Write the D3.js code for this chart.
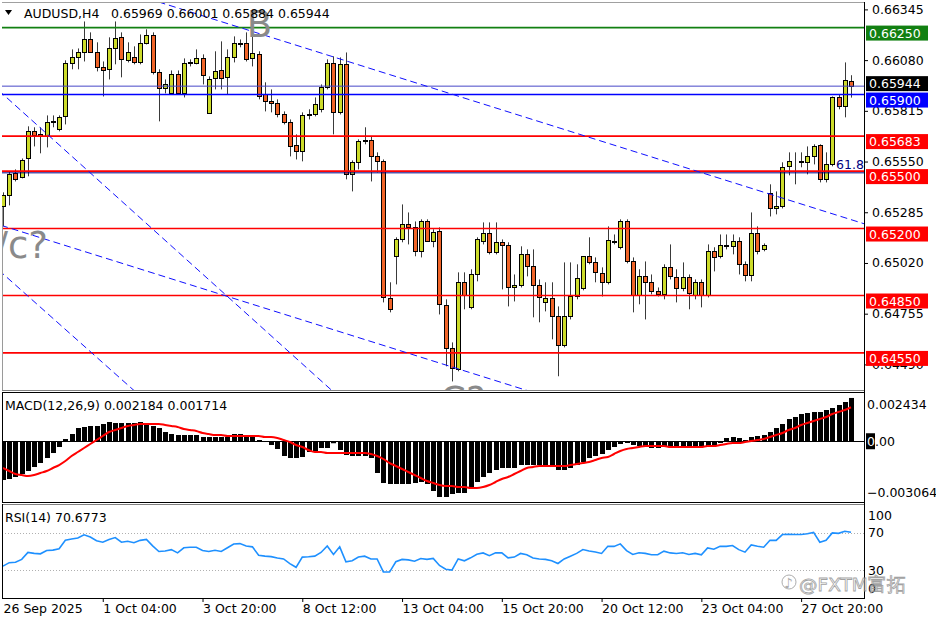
<!DOCTYPE html>
<html><head><meta charset="utf-8">
<script src="https://cdn.jsdelivr.net/npm/d3@7"></script>
<style>body{margin:0;background:#fff}svg{display:block}text{font-family:"DejaVu Sans",sans-serif}</style>
</head><body><svg id="c" width="936" height="624"></svg>
<script>
// ---------- DATA ----------
const symbolTitle = "AUDUSD,H4";
const lastOHLC = ["0.65969","0.66001","0.65884","0.65944"];
const tickBars = [0,16,32,48,64,80,96,112,128];
const tickLabels = ["26 Sep 2025","1 Oct 04:00","3 Oct 20:00","8 Oct 12:00","13 Oct 04:00","15 Oct 20:00","20 Oct 12:00","23 Oct 04:00","27 Oct 20:00"];
const priceTicks = [0.66345,0.66080,0.65815,0.65550,0.65285,0.65020,0.64755,0.64490];

const open = [0.65316,0.65373,0.65488,0.65467,0.65566,0.65708,0.65692,0.65682,0.65755,0.65718,
0.65786,0.66063,0.66094,0.66120,0.66188,0.66120,0.66042,0.66032,0.66141,0.66199,
0.66079,0.66094,0.66068,0.66167,0.66209,0.66016,0.65932,0.65906,0.66005,0.65906,
0.66063,0.66063,0.66089,0.65802,0.65985,0.66026,0.65990,0.66094,0.66167,0.66167,
0.66089,0.66110,0.65901,0.65864,0.65854,0.65796,0.65755,0.65634,0.65603,0.65791,
0.65796,0.65823,0.65938,0.66063,0.65807,0.66058,0.65483,0.65546,0.65661,0.65661,
0.65577,0.65551,0.64835,0.65055,0.65143,0.65222,0.65206,0.65081,0.65237,0.65133,
0.65185,0.64798,0.64574,0.64464,0.64919,0.64788,0.64960,0.65133,0.65175,0.65075,
0.65128,0.65112,0.64892,0.64903,0.65065,0.65002,0.64903,0.64814,0.64835,0.64741,
0.64589,0.64741,0.64845,0.64887,0.65055,0.65023,0.64966,0.64919,0.65133,0.65102,
0.65237,0.65028,0.64851,0.64950,0.64919,0.64872,0.64856,0.64997,0.64945,0.64887,
0.64945,0.64851,0.64919,0.64851,0.65081,0.65055,0.65112,0.65107,0.65133,0.65013,
0.64955,0.65175,0.65091,0.65384,0.65305,0.65316,0.65525,0.65551,0.65551,0.65546,
0.65577,0.65634,0.65457,0.65535,0.65885,0.65838,0.65969];
const high = [0.65389,0.65499,0.65509,0.65566,0.65734,0.65729,0.65729,0.65791,0.65791,0.65791,
0.66079,0.66136,0.66141,0.66282,0.66225,0.66173,0.66073,0.66199,0.66282,0.66225,
0.66173,0.66152,0.66214,0.66241,0.66225,0.66032,0.65979,0.66026,0.66026,0.66089,
0.66084,0.66136,0.66110,0.65995,0.66126,0.66178,0.66136,0.66204,0.66188,0.66225,
0.66225,0.66126,0.65964,0.65927,0.65875,0.65812,0.65770,0.65692,0.65807,0.65823,
0.65885,0.65953,0.66084,0.66100,0.66094,0.66120,0.65556,0.65666,0.65729,0.65682,
0.65598,0.65561,0.64919,0.65154,0.65326,0.65284,0.65237,0.65248,0.65248,0.65196,
0.65206,0.64830,0.64605,0.64971,0.64971,0.64987,0.65154,0.65232,0.65232,0.65232,
0.65143,0.65128,0.64960,0.65107,0.65091,0.65091,0.64934,0.64919,0.64919,0.64793,
0.65023,0.65023,0.65013,0.65055,0.65154,0.65049,0.64997,0.65211,0.65169,0.65248,
0.65248,0.65049,0.64987,0.65028,0.64960,0.64892,0.65013,0.65117,0.64987,0.65023,
0.64960,0.64934,0.64934,0.65117,0.65102,0.65169,0.65169,0.65169,0.65154,0.65028,
0.65284,0.65211,0.65122,0.65431,0.65394,0.65546,0.65598,0.65598,0.65598,0.65629,
0.65640,0.65640,0.65598,0.65890,0.65901,0.66068,0.66001];
const low = [0.65211,0.65321,0.65446,0.65462,0.65473,0.65629,0.65593,0.65624,0.65729,0.65708,
0.65744,0.66032,0.66032,0.66073,0.66120,0.66021,0.65890,0.65979,0.66058,0.65990,
0.66068,0.66058,0.66058,0.66162,0.66005,0.65760,0.65906,0.65901,0.65906,0.65885,
0.66047,0.66058,0.65953,0.65802,0.65927,0.65927,0.65901,0.66068,0.66147,0.66073,
0.66047,0.65875,0.65812,0.65807,0.65781,0.65744,0.65577,0.65561,0.65551,0.65770,
0.65786,0.65807,0.65927,0.65692,0.65796,0.65457,0.65394,0.65509,0.65640,0.65446,
0.65493,0.64814,0.64762,0.64908,0.65128,0.65117,0.65055,0.65049,0.65133,0.65102,
0.64751,0.64480,0.64401,0.64454,0.64778,0.64778,0.64924,0.65117,0.65065,0.65065,
0.64882,0.64793,0.64819,0.64892,0.64950,0.64736,0.64710,0.64767,0.64621,0.64428,
0.64579,0.64725,0.64830,0.64877,0.65013,0.64919,0.64845,0.64908,0.65117,0.65091,
0.65018,0.64762,0.64804,0.64725,0.64856,0.64845,0.64830,0.64934,0.64814,0.64872,
0.64778,0.64830,0.64788,0.64840,0.64976,0.65044,0.65091,0.65065,0.64960,0.64924,
0.64924,0.65065,0.65081,0.65263,0.65274,0.65305,0.65478,0.65431,0.65520,0.65483,
0.65535,0.65441,0.65441,0.65525,0.65823,0.65781,0.65884];
const close = [0.65373,0.65483,0.65457,0.65556,0.65708,0.65687,0.65682,0.65755,0.65760,0.65781,
0.66063,0.66094,0.66120,0.66188,0.66120,0.66042,0.66026,0.66141,0.66194,0.66084,
0.66120,0.66068,0.66167,0.66209,0.66016,0.65932,0.65953,0.66005,0.65906,0.66063,
0.66068,0.66089,0.66000,0.65979,0.66021,0.65985,0.66094,0.66167,0.66162,0.66084,
0.66115,0.65890,0.65864,0.65854,0.65796,0.65755,0.65629,0.65603,0.65791,0.65796,
0.65849,0.65938,0.66063,0.65807,0.66058,0.65483,0.65546,0.65655,0.65658,0.65577,
0.65551,0.64840,0.64778,0.65143,0.65222,0.65206,0.65081,0.65237,0.65133,0.65180,
0.64804,0.64574,0.64469,0.64919,0.64851,0.64960,0.65143,0.65175,0.65075,0.65128,
0.65112,0.64892,0.64903,0.65065,0.65002,0.64903,0.64840,0.64835,0.64741,0.64589,
0.64741,0.64845,0.64940,0.65055,0.65023,0.64971,0.64919,0.65138,0.65128,0.65237,
0.65028,0.64851,0.64950,0.64919,0.64872,0.64856,0.64997,0.64950,0.64887,0.64945,
0.64861,0.64919,0.64851,0.65081,0.65049,0.65112,0.65107,0.65133,0.65013,0.64955,
0.65175,0.65081,0.65112,0.65305,0.65316,0.65520,0.65551,0.65553,0.65549,0.65577,
0.65629,0.65457,0.65535,0.65885,0.65838,0.65974,0.65944];

const macdHist = [-0.001955,-0.001904,-0.001803,-0.001652,-0.0015,-0.001299,-0.001097,-0.000845,-0.000593,-0.00029,
0.000113,0.000366,0.000668,0.000719,0.000769,0.000769,0.00087,0.000971,0.00092,0.00092,
0.00092,0.00092,0.000971,0.00087,0.000769,0.000668,0.000466,0.000366,0.000315,0.000315,
0.000315,0.000315,0.000214,0.000214,0.000214,0.000214,0.000214,0.000366,0.000366,0.000315,
0.000265,0.000063,-0.000038,-0.000189,-0.000391,-0.000744,-0.000845,-0.000845,-0.000794,-0.000542,
-0.000542,-0.00034,-0.00034,-0.0001,-0.000441,-0.000694,-0.000744,-0.000744,-0.000744,-0.000845,
-0.001601,-0.002106,-0.002156,-0.002156,-0.002156,-0.002156,-0.002106,-0.002055,-0.002156,-0.002509,
-0.002812,-0.002812,-0.00266,-0.00261,-0.00261,-0.002307,-0.002055,-0.001803,-0.001601,-0.00145,
-0.001349,-0.001349,-0.001349,-0.001198,-0.001198,-0.001198,-0.001198,-0.001248,-0.001299,-0.00145,
-0.00145,-0.001349,-0.001198,-0.001047,-0.000845,-0.000744,-0.000643,-0.000441,-0.00029,-0.000139,
-0.000088,-0.000189,-0.00024,-0.00024,-0.00034,-0.00034,-0.00029,-0.00029,-0.00029,-0.00029,
-0.00029,-0.00029,-0.00029,-0.00024,-0.000189,-0.000088,0.000164,0.000214,0.000164,0.000063,
0.000214,0.000265,0.000315,0.000466,0.000668,0.00087,0.001122,0.001223,0.001374,0.001425,
0.001475,0.001475,0.001576,0.001677,0.001829,0.00198,0.002184];
const macdSignal = [-0.001349,-0.001501,-0.001652,-0.001702,-0.001753,-0.001702,-0.001601,-0.001501,-0.001349,-0.001198,
-0.000996,-0.000744,-0.000542,-0.00034,-0.000139,0.000063,0.000265,0.000466,0.000567,0.000668,
0.000769,0.00082,0.00087,0.00087,0.00087,0.00087,0.00082,0.000769,0.000719,0.000618,
0.000567,0.000517,0.000416,0.000366,0.000315,0.000315,0.000265,0.000265,0.000265,0.000265,
0.000265,0.000265,0.000214,0.000214,0.000164,0.000063,-0.000038,-0.000189,-0.00029,-0.000441,
-0.000542,-0.000542,-0.000593,-0.000593,-0.000593,-0.000593,-0.000593,-0.000593,-0.000593,-0.000643,
-0.000744,-0.000895,-0.001097,-0.001248,-0.0014,-0.001551,-0.001702,-0.001853,-0.002005,-0.002106,
-0.002207,-0.002257,-0.002257,-0.002307,-0.002307,-0.002358,-0.002358,-0.002307,-0.002207,-0.002055,
-0.001904,-0.001803,-0.001652,-0.001501,-0.001349,-0.001299,-0.001248,-0.001248,-0.001248,-0.001248,
-0.001248,-0.001198,-0.001148,-0.001097,-0.001047,-0.000946,-0.000845,-0.000794,-0.000643,-0.000492,
-0.000391,-0.00034,-0.00029,-0.00024,-0.00024,-0.00024,-0.00024,-0.00029,-0.00029,-0.00029,
-0.00029,-0.00029,-0.00029,-0.00024,-0.00024,-0.000189,-0.000139,-0.000088,-0.000088,-0.000038,
0.000013,0.000063,0.000113,0.000214,0.000315,0.000416,0.000567,0.000668,0.00082,0.00092,
0.001021,0.001122,0.001223,0.001374,0.001475,0.001576,0.001714];
const macdTicks = [0.002434,0,-0.003064];
const macdTitle = "MACD(12,26,9) 0.002184 0.001714";

const rsi = [34.3,38,38.5,41.5,49,48,47.5,51,51.5,53,
62,63.5,64.5,68,65.5,61.5,60,63,65,60,
61,59.5,62,63,56,50,50.5,52,48.5,54,
54.5,54.6,51,50,51.4,50,54,58,58.5,56,
55,46,45,44.5,43,42,37,33,44,44.3,
45,49,56,46.8,55,38.9,40,44,45,42,
42,28,27.9,39,41.5,41,39.6,42.5,41.5,42.5,
35,31,30,42,40,43.2,47,48.5,45.5,48.6,
48.5,43.2,44,47.9,46.5,43,42,41.5,40,37.1,
42,45,48,52.1,50.5,49.5,47.9,55.7,55.5,58.2,
51,46.8,48.6,48,46.5,46.5,50.4,48.5,47.9,48.6,
46.8,48,46.5,53.9,52.5,55.7,55.5,56.4,52,49.3,
57,55.7,54.6,62.1,62,68.2,68.5,68.2,68.2,69,
70.5,60,62,70,69.5,71.8,70.68];
const rsiTicks = [100,70,30,0];
const rsiLevels = [70,30];
const rsiTitle = "RSI(14) 70.6773";

const levelPrices = [0.6625,0.659,0.65683,0.655,0.652,0.6485,0.6455];
const levelLabels = ["0.66250","0.65900","0.65683","0.65500","0.65200","0.64850","0.64550"];
const levelKinds = ["green","blue","red","red","red","red","red"];
const bidPrice = 0.65944, bidLabel = "0.65944";
const fibPrice = 0.65491, fibLabel = "61.8";
// trend lines: [bar1, price1, bar2, price2]
const trendLines = [[47.6,0.66152,137.9,0.65227],[-0.16,0.65906,50.04,0.64433],[-0.21,0.64969,20.1,0.64380],[0.05,0.65213,82.44,0.64370]];
const waveLabels = [{t:"B",bar:39.1,p:0.66201,anchor:"start"},{t:"b/c?",bar:7.2,p:0.65046,anchor:"end"},{t:"C?",bar:70.1,p:0.64236,anchor:"start"}];

// ---------- STYLE / LAYOUT ----------
const svg = d3.select("#c");
svg.append("rect").attr("width",936).attr("height",624).attr("fill","#fff");
const L=2, R=864;
const MAIN={t:2,b:390}, MP={t:392,b:502}, RP={t:504,b:598};
const FONT=12.5;
const x = d3.scaleLinear().domain([0,136]).range([3,851]);
const y = d3.scaleLinear().domain([0.64490,0.66345]).range([364.4,9.4]);
const yM = d3.scaleLinear().domain([-0.003064,0.002434]).range([502,393]);
const yR = d3.scaleLinear().domain([0,100]).range([598,505]);
const colors = {green:"#128012",blue:"#0000ff",red:"#ff0000"};
const bull="#ccdb2a", bear="#f06428";

const defs = svg.append("defs");
function clip(id,t,b){defs.append("clipPath").attr("id",id).append("rect").attr("x",L).attr("y",t).attr("width",R-L).attr("height",b-t);}
clip("cMain",MAIN.t,MAIN.b); clip("cM",MP.t,MP.b); clip("cR",RP.t,RP.b);

// ---------- MAIN PANEL ----------
const gMain = svg.append("g").attr("clip-path","url(#cMain)");
svg.append("line").attr("x1",2.5).attr("x2",2.5).attr("y1",207).attr("y2",MAIN.b).attr("stroke","#9a9a9a");
const gC = gMain.append("g");
open.forEach((o,i)=>{
  const cx = Math.round(x(i))+0.5, c = close[i];
  gC.append("line").attr("x1",cx).attr("x2",cx).attr("y1",y(high[i])).attr("y2",y(low[i])).attr("stroke","#3a3a3a");
  const top = Math.round(y(Math.max(o,c)))+0.5, bot = Math.round(y(Math.min(o,c)))+0.5;
  gC.append("rect").attr("x",cx-2).attr("y",top).attr("width",4).attr("height",Math.max(bot-top,0))
    .attr("fill", c>=o?bull:bear).attr("stroke","#000").attr("stroke-width",1);
});

// bid line & levels & fib line
gMain.append("line").attr("x1",L).attr("x2",R).attr("y1",y(bidPrice)).attr("y2",y(bidPrice)).attr("stroke","#4646c8").attr("stroke-width",1);
levelPrices.forEach((p,i)=>{
  gMain.append("line").attr("x1",L).attr("x2",R).attr("y1",y(p)).attr("y2",y(p))
   .attr("stroke",colors[levelKinds[i]]).attr("stroke-width",1.6);
});
gMain.append("line").attr("x1",L).attr("x2",R).attr("y1",y(fibPrice)).attr("y2",y(fibPrice)).attr("stroke","#000080").attr("stroke-width",1);
gMain.append("text").attr("x",836).attr("y",y(fibPrice)-4).attr("font-size",FONT).attr("fill","#000080").text(fibLabel);

// trend lines
trendLines.forEach(([b1,p1,b2,p2])=>{
  const s=(p2-p1)/(b2-b1), bA=-2, bB=142;
  gMain.append("line").attr("x1",x(bA)).attr("y1",y(p1+s*(bA-b1))).attr("x2",x(bB)).attr("y2",y(p1+s*(bB-b1)))
    .attr("stroke","#1010ff").attr("stroke-width",1).attr("stroke-dasharray","7,4");
});

// header
svg.append("path").attr("d","M5,10 L12,10 L8.5,15 Z").attr("fill","#000");
svg.append("text").attr("x",24).attr("y",17.5).attr("font-size",FONT).attr("fill","#000").text(symbolTitle);
svg.append("text").attr("x",111).attr("y",17.5).attr("font-size",FONT).attr("fill","#000").text(lastOHLC.join(" "));

// wave labels
waveLabels.forEach(w=>{
  gMain.append("text").attr("x",x(w.bar)).attr("y",y(w.p)).attr("text-anchor",w.anchor)
   .attr("font-family","Liberation Sans, Arial, sans-serif").attr("font-size",37).attr("fill","#8a8a8a").text(w.t);
});

// price axis
const ax = svg.append("g").attr("transform",`translate(${R},0)`)
  .call(d3.axisRight(y).tickValues(priceTicks).tickFormat(d3.format(".5f")).tickSize(4).tickPadding(4));
ax.select(".domain").remove();
ax.selectAll("text").attr("font-size",FONT).attr("font-family","DejaVu Sans").attr("fill","#000");
ax.selectAll("line").attr("stroke","#000");

// level labels
function tag(top,label,fill){
  svg.append("rect").attr("x",866).attr("y",top).attr("width",62).attr("height",15).attr("fill",fill);
  svg.append("text").attr("x",869).attr("y",top+12).attr("font-size",FONT).attr("fill","#fff").text(label);
}
tag(y(bidPrice)-10,bidLabel,"#000");
levelPrices.forEach((p,i)=>tag(y(p)-2,levelLabels[i],colors[levelKinds[i]]));

// ---------- MACD ----------
const gM = svg.append("g").attr("clip-path","url(#cM)");
macdHist.forEach((v,i)=>{
  const cx=Math.round(x(i));
  gM.append("rect").attr("x",cx-2).attr("width",5).attr("y",Math.min(yM(0),yM(v))).attr("height",Math.abs(yM(v)-yM(0))).attr("fill","#000");
});
gM.append("line").attr("x1",L).attr("x2",R).attr("y1",Math.round(yM(0))+0.5).attr("y2",Math.round(yM(0))+0.5).attr("stroke","#000");
gM.append("path").datum(macdSignal).attr("fill","none").attr("stroke","#ff0000").attr("stroke-width",2)
  .attr("d",d3.line().x((d,i)=>x(i)).y(d=>yM(d)).curve(d3.curveMonotoneX));
svg.append("text").attr("x",5).attr("y",409.5).attr("font-size",FONT).text(macdTitle);
macdTicks.forEach(v=>{
  const cy = Math.max(MP.t+12, Math.min(MP.b-10, yM(v)));
  if(v===0){
    svg.append("rect").attr("x",866).attr("y",cy-8).attr("width",9).attr("height",16).attr("fill","#000");
    const t=svg.append("text").attr("x",867).attr("y",cy+4.5).attr("font-size",FONT);
    t.append("tspan").attr("fill","#fff").text("0");
    t.append("tspan").attr("fill","#000").text(".00");
  } else {
    svg.append("text").attr("x",867).attr("y",cy+4.5).attr("font-size",FONT).text(d3.format(".6f")(v));
  }
});

// ---------- RSI ----------
const gR = svg.append("g").attr("clip-path","url(#cR)");
rsiLevels.forEach(v=>{
  gR.append("line").attr("x1",L).attr("x2",R).attr("y1",Math.round(yR(v))+0.5).attr("y2",Math.round(yR(v))+0.5)
   .attr("stroke","#b0b0b0").attr("stroke-dasharray","1,2");
});
gR.append("path").datum(rsi).attr("fill","none").attr("stroke","#1e90ff").attr("stroke-width",1.6)
  .attr("d",d3.line().x((d,i)=>x(i)).y(d=>yR(d)));
svg.append("text").attr("x",5).attr("y",521.5).attr("font-size",FONT).text(rsiTitle);
rsiTicks.forEach(v=>{
  const cy = Math.max(RP.t+11, Math.min(RP.b-10, yR(v)));
  svg.append("text").attr("x",868).attr("y",cy+4.5).attr("font-size",FONT).text(v);
});

// time axis
const tx = svg.append("g").attr("transform",`translate(0,${RP.b})`)
  .call(d3.axisBottom(x).tickValues(tickBars).tickFormat((d,i)=>tickLabels[i]).tickSize(4).tickPadding(2));
tx.select(".domain").remove();
tx.selectAll("text").attr("font-size",FONT).attr("font-family","DejaVu Sans").attr("fill","#000").attr("text-anchor","start").attr("x",0);
tx.selectAll("line").attr("stroke","#000");
tx.select(".tick line").remove();

// ---------- BORDERS ----------
function hl(yy,c){svg.append("line").attr("x1",L).attr("x2",R).attr("y1",yy).attr("y2",yy).attr("stroke",c);}
hl(2.5,"#a0a0a0"); hl(390.5,"#808080"); hl(392.5,"#000"); hl(502.5,"#000"); hl(504.5,"#808080"); hl(598.5,"#000");
svg.append("line").attr("x1",2.5).attr("x2",2.5).attr("y1",392).attr("y2",503).attr("stroke","#000");
svg.append("line").attr("x1",2.5).attr("x2",2.5).attr("y1",504).attr("y2",599).attr("stroke","#000");
svg.append("line").attr("x1",R+0.5).attr("x2",R+0.5).attr("y1",2).attr("y2",599).attr("stroke","#000");

// ---------- WATERMARK ----------
const wm = svg.append("g").attr("opacity",0.8);
wm.append("circle").attr("cx",789).attr("cy",582).attr("r",7).attr("fill","none").attr("stroke","#9a9a9a").attr("stroke-width",1);
wm.append("text").attr("x",784).attr("y",588).attr("font-size",14).attr("fill","#9a9a9a").text("♪");
wm.append("text").attr("x",799).attr("y",591).attr("font-family","Noto Sans CJK SC, sans-serif").attr("font-size",18.5)
  .attr("fill","#fff").attr("fill-opacity",0.6).attr("stroke","#8c8c8c").attr("stroke-width",0.8).text("@FXTM富拓");
</script></body></html>
